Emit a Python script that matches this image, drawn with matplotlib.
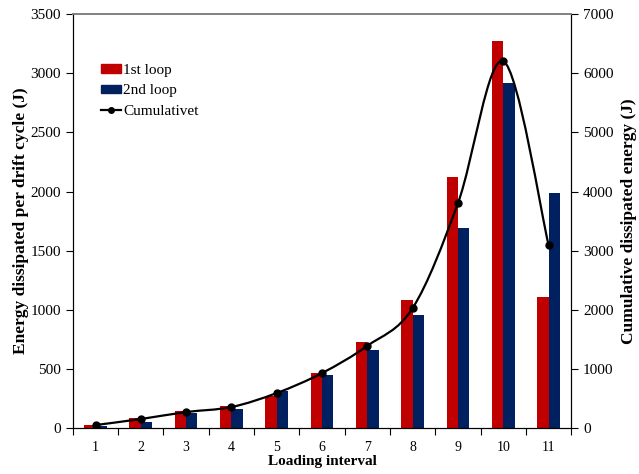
import numpy as np
import matplotlib
matplotlib.use('Agg')
import matplotlib.pyplot as plt
from matplotlib.path import Path
from matplotlib.patches import PathPatch
from matplotlib.lines import Line2D
from matplotlib.patches import Patch

plt.rcParams['font.family'] = ['Liberation Serif', 'DejaVu Serif']

# energy per loading interval
intervals = [1, 2, 3, 4, 5, 6, 7, 8, 9, 10, 11]
loop1 = [25, 85, 145, 190, 270, 465, 725, 1080, 2120, 3270, 1110]
loop2 = [15, 55, 125, 160, 310, 450, 660, 960, 1690, 2920, 1990]
cumulative = [50, 152, 270, 355, 592, 930, 1390, 2030, 3805, 6205, 3095]

red = '#C00000'
blue = '#002060'

fig, ax = plt.subplots(figsize=(6.39, 4.74), dpi=100)
fig.subplots_adjust(left=0.114, right=0.894, top=0.970, bottom=0.097)

x = np.array(intervals, dtype=float)
w = 0.25
ax.bar(x - w / 2, loop1, width=w, color=red, zorder=2)
ax.bar(x + w / 2, loop2, width=w, color=blue, zorder=2)

ax.set_xlim(0.5, 11.5)
ax.set_ylim(0, 3500)
ax.set_yticks(np.arange(0, 3501, 500))
ax.set_xticks(np.arange(0.5, 11.6, 1))
ax.set_xticklabels([])
ax.set_xticks(x, minor=True)
ax.set_xticklabels([str(i) for i in intervals], minor=True)
ax.tick_params(axis='x', which='minor', length=0, pad=9)
ax.tick_params(axis='x', which='major', length=5, direction='out')
ax.tick_params(axis='y', length=5, direction='out')
ax.tick_params(labelsize=11)

ax.set_xlabel('Loading interval', fontsize=11, fontweight='bold', labelpad=1)
ax.set_ylabel('Energy dissipated per drift cycle (J)', fontsize=12.5,
              fontweight='bold', labelpad=1)

# cumulative curve on the right axis, smoothed with cubic Bezier segments
ax2 = ax.twinx()
ax2.set_ylim(0, 7000)
ax2.set_yticks(np.arange(0, 7001, 1000))
ax2.tick_params(axis='y', length=5, direction='out', labelsize=11)
ax2.set_ylabel('Cumulative dissipated energy (J)', fontsize=12.5,
               fontweight='bold', labelpad=5)

pts = np.column_stack([x, cumulative]).astype(float)
verts = [pts[0]]
codes = [Path.MOVETO]
n = len(pts)
for i in range(n - 1):
    p0 = pts[max(i - 1, 0)]
    p1 = pts[i]
    p2 = pts[i + 1]
    p3 = pts[min(i + 2, n - 1)]
    c1 = p1 + (p2 - p0) / 6.0
    c2 = p2 - (p3 - p1) / 6.0
    verts += [c1, c2, p2]
    codes += [Path.CURVE4] * 3
curve = PathPatch(Path(verts, codes), facecolor='none', edgecolor='black',
                  lw=1.6, transform=ax2.transData, zorder=3)
ax2.add_patch(curve)
ax2.plot(x, cumulative, linestyle='none', marker='o', markersize=5,
         color='black', zorder=4)

for a in (ax, ax2):
    a.spines['top'].set_color('#808080')
    a.spines['top'].set_linewidth(1.2)

handles = [Patch(color=red, label='1st loop'),
           Patch(color=blue, label='2nd loop'),
           Line2D([], [], color='black', marker='o', markersize=4, lw=1.6,
                  label='Cumulativet')]
ax.legend(handles=handles, loc='upper left', bbox_to_anchor=(0.044, 0.895),
          frameon=False, fontsize=11, handlelength=1.3, handleheight=0.5,
          handletextpad=0.15, labelspacing=0.5, borderaxespad=0)

fig.savefig('out.png', dpi=100)
